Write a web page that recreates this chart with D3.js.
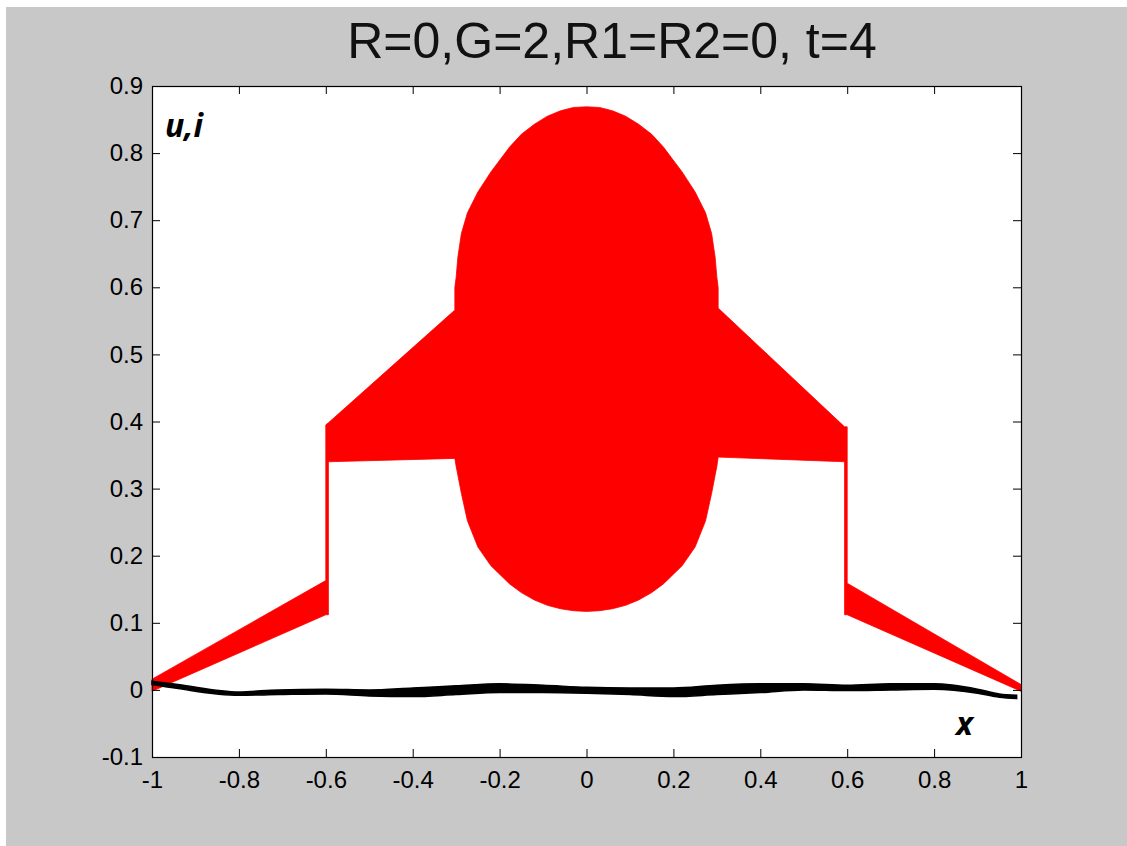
<!DOCTYPE html>
<html>
<head>
<meta charset="utf-8">
<script src="https://cdn.jsdelivr.net/npm/d3@7"></script>
<style>
  body { margin: 0; background: #c8c8c8; }
  svg { display: block; }
</style>
</head>
<body>
<div id="plot"></div>
<script>
// Red band (i): lower and upper edge at each x
const redX    = [-1, -0.6, -0.6, -0.594, -0.594, -0.303, -0.303, -0.3, -0.296, -0.288, -0.274, -0.25, -0.22, -0.177, -0.15, -0.12, -0.09, -0.06, -0.03, 0,
                 0.03, 0.06, 0.09, 0.12, 0.15, 0.177, 0.22, 0.25, 0.274, 0.288, 0.296, 0.3, 0.303, 0.303, 0.594, 0.594, 0.6, 0.6, 1];
const redLow  = [-0.002, 0.112, 0.112, 0.112, 0.340, 0.345, 0.345, 0.333, 0.32, 0.293, 0.252, 0.213, 0.185, 0.158, 0.145, 0.134, 0.126, 0.121, 0.118, 0.117,
                 0.118, 0.121, 0.126, 0.134, 0.145, 0.158, 0.185, 0.213, 0.252, 0.293, 0.32, 0.333, 0.347, 0.347, 0.340, 0.112, 0.112, 0.112, -0.002];
const redHigh = [0.016, 0.163, 0.395, 0.398, 0.398, 0.566, 0.60, 0.615, 0.645, 0.68, 0.711, 0.742, 0.772, 0.809, 0.828, 0.843, 0.855, 0.863, 0.868, 0.869,
                 0.868, 0.863, 0.855, 0.843, 0.828, 0.809, 0.772, 0.742, 0.711, 0.68, 0.645, 0.615, 0.60, 0.569, 0.392, 0.392, 0.392, 0.159, 0.008];

// Black band (u)
const blackX    = [-1, -0.94, -0.8, -0.71, -0.6, -0.5, -0.4, -0.3, -0.2, -0.1, 0, 0.1, 0.2, 0.3, 0.4, 0.5, 0.6, 0.7, 0.8, 0.9, 0.95, 0.99];
const blackHigh = [0.013, 0.008, -0.003, 0.0, 0.001, 0.0, 0.003, 0.006, 0.009, 0.007, 0.004, 0.003, 0.003, 0.007, 0.009, 0.009, 0.007, 0.009, 0.009, 0.001, -0.006, -0.008];
const blackLow  = [0.008, 0.002, -0.008, -0.007, -0.006, -0.009, -0.010, -0.007, -0.004, -0.004, -0.005, -0.007, -0.010, -0.007, -0.004, 0.0, -0.001, 0.0, 0.001, -0.005, -0.011, -0.013];

// Ticks
const xTicks = [-1, -0.8, -0.6, -0.4, -0.2, 0, 0.2, 0.4, 0.6, 0.8, 1];
const xTickLabels = ["-1", "-0.8", "-0.6", "-0.4", "-0.2", "0", "0.2", "0.4", "0.6", "0.8", "1"];
const yTicks = [-0.1, 0, 0.1, 0.2, 0.3, 0.4, 0.5, 0.6, 0.7, 0.8, 0.9];
const yTickLabels = ["-0.1", "0", "0.1", "0.2", "0.3", "0.4", "0.5", "0.6", "0.7", "0.8", "0.9"];

const titleText = "R=0,G=2,R1=R2=0, t=4";

// Chart dimensions
const width = 1127;
const height = 846;
const plotLeft = 152, plotRight = 1021, plotTop = 86, plotBottom = 757;

const svg = d3.select("#plot")
  .append("svg")
  .attr("width", width)
  .attr("height", height);

// background with the white strip on top / left
svg.append("rect").attr("width", width).attr("height", height).attr("fill", "#c8c8c8");
svg.append("rect").attr("width", width).attr("height", 7).attr("fill", "#fff");
svg.append("rect").attr("width", 6).attr("height", height).attr("fill", "#fff");

const x = d3.scaleLinear().domain([-1, 1]).range([plotLeft, plotRight]);
const y = d3.scaleLinear().domain([-0.1, 0.9]).range([plotBottom, plotTop]);

// plot area
svg.append("rect")
  .attr("x", plotLeft).attr("y", plotTop)
  .attr("width", plotRight - plotLeft).attr("height", plotBottom - plotTop)
  .attr("fill", "#fff");

// red band
const redArea = d3.area()
  .x((d, i) => x(redX[i]))
  .y0((d, i) => y(redLow[i]))
  .y1((d, i) => y(redHigh[i]));

svg.append("path")
  .attr("d", redArea(redX))
  .attr("fill", "#ff0000")
  .attr("stroke", "#ff0000")
  .attr("stroke-width", 0.8)
  .attr("stroke-linejoin", "round");

// black band
const blackArea = d3.area()
  .x((d, i) => x(blackX[i]))
  .y0((d, i) => y(blackLow[i]))
  .y1((d, i) => y(blackHigh[i]))
  .curve(d3.curveMonotoneX);

svg.append("path")
  .attr("d", blackArea(blackX))
  .attr("fill", "#000")
  .attr("stroke", "#000")
  .attr("stroke-width", 1.5);

// axes, ticks pointing inward on all four sides
const fmtX = (d, i) => xTickLabels[i];
const fmtY = (d, i) => yTickLabels[i];

const axisStyle = sel => {
  sel.select(".domain").remove();
  sel.selectAll("line").attr("stroke", "#000");
  sel.selectAll("text")
    .attr("fill", "#000")
    .style("font-family", "'Liberation Sans', Arial, sans-serif")
    .style("font-size", "24px");
};

svg.append("g")
  .attr("transform", `translate(0,${plotBottom})`)
  .call(d3.axisBottom(x).tickValues(xTicks).tickFormat(fmtX).tickSize(-8).tickPadding(14))
  .call(axisStyle);

svg.append("g")
  .attr("transform", `translate(0,${plotTop})`)
  .call(d3.axisTop(x).tickValues(xTicks).tickFormat("").tickSize(-8))
  .call(axisStyle);

svg.append("g")
  .attr("transform", `translate(${plotLeft},0)`)
  .call(d3.axisLeft(y).tickValues(yTicks).tickFormat(fmtY).tickSize(-8).tickPadding(9))
  .call(axisStyle);

svg.append("g")
  .attr("transform", `translate(${plotRight},0)`)
  .call(d3.axisRight(y).tickValues(yTicks).tickFormat("").tickSize(-8))
  .call(axisStyle);

// frame
svg.append("rect")
  .attr("x", plotLeft + 0.5).attr("y", plotTop + 0.5)
  .attr("width", plotRight - plotLeft).attr("height", plotBottom - plotTop)
  .attr("fill", "none")
  .attr("stroke", "#000")
  .attr("stroke-width", 1.2);

// title
svg.append("text")
  .attr("x", 612)
  .attr("y", 58)
  .attr("text-anchor", "middle")
  .style("font-family", "'Liberation Sans', Arial, sans-serif")
  .style("font-size", "50px")
  .attr("fill", "#111")
  .text(titleText);

// axis annotations inside the plot
svg.append("text")
  .attr("x", 165)
  .attr("y", 137)
  .style("font-family", "'Open Sans', sans-serif")
  .style("font-weight", "bold")
  .style("font-style", "italic")
  .style("font-size", "32px")
  .text("u,i");

svg.append("text")
  .attr("x", 956)
  .attr("y", 735)
  .style("font-family", "'Open Sans', sans-serif")
  .style("font-weight", "bold")
  .style("font-style", "italic")
  .style("font-size", "32px")
  .text("x");
</script>
</body>
</html>
